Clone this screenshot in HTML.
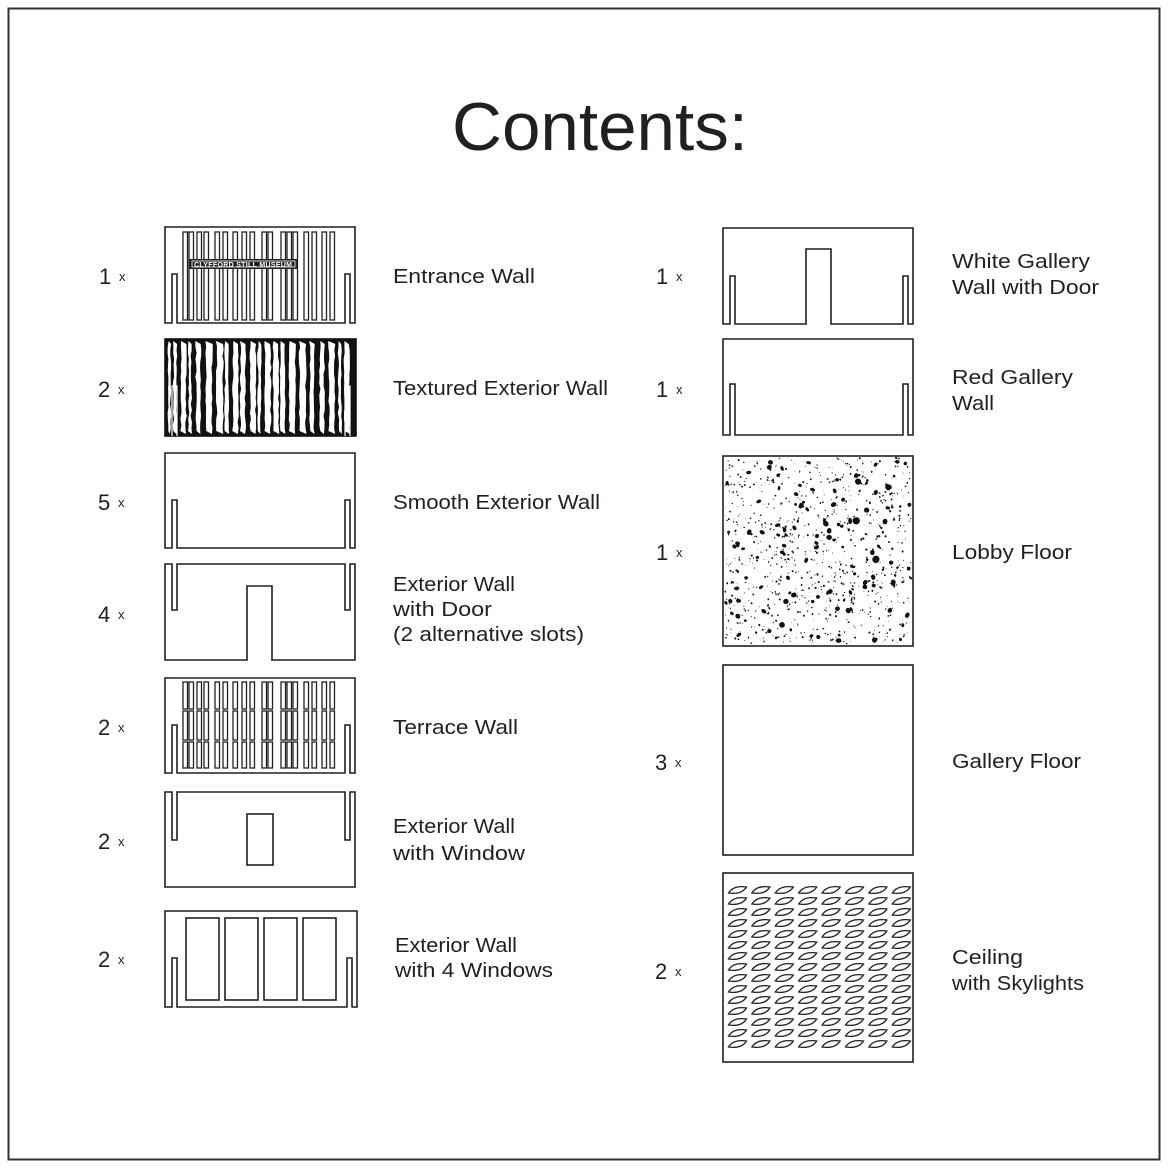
<!DOCTYPE html>
<html><head><meta charset="utf-8"><style>
html,body{margin:0;padding:0;background:#fff}
svg{display:block}
text{font-family:"Liberation Sans",sans-serif;fill:#231f20}
</style></head><body>
<svg id="s" width="1168" height="1168" viewBox="0 0 1168 1168" xmlns="http://www.w3.org/2000/svg">
<rect x="0" y="0" width="1168" height="1168" fill="#fff"/>
<rect x="8.5" y="8.5" width="1151" height="1151" fill="none" stroke="#333" stroke-width="2"/>
<text x="452" y="150" font-size="68" textLength="296" lengthAdjust="spacingAndGlyphs">Contents:</text>
<g id="shapes" fill="none" stroke="#231f20" stroke-width="1.6"></g>
<g id="labels" font-size="20"></g>
</svg>
<script>
var NS="http://www.w3.org/2000/svg",G=document.getElementById('shapes'),L=document.getElementById('labels'),S=document.getElementById('s');
function el(t,a,p){var e=document.createElementNS(NS,t);for(var k in a)e.setAttribute(k,a[k]);(p||G).appendChild(e);return e;}
function txt(x,y,s,fs,p,tl){var e=el('text',{x:x,y:y,'font-size':fs||20},p||L);e.textContent=s;if(tl){e.setAttribute('textLength',tl);e.setAttribute('lengthAdjust','spacingAndGlyphs');}return e;}
var seed=7;function r(){seed=(seed*16807)%2147483647;return (seed-1)/2147483646;}
function wall(x1,y1,x2,y2,ny,top,fill){
 var d;
 if(!top){d='M'+x1+','+y1+'H'+x2+'V'+y2+'H'+(x2-5)+'V'+ny+'H'+(x2-10)+'V'+y2+'H'+(x1+12)+'V'+ny+'H'+(x1+7)+'V'+y2+'H'+x1+'Z';}
 else{d='M'+x1+','+y2+'H'+x2+'V'+y1+'H'+(x2-5)+'V'+ny+'H'+(x2-10)+'V'+y1+'H'+(x1+12)+'V'+ny+'H'+(x1+7)+'V'+y1+'H'+x1+'Z';}
 return el('path',{d:d,fill:fill||'none'});
}
var bx=[183,189,197,204,215,223,233,242,250,262,268,281,287,293,304,312,322,330];
wall(165,227,355,323,274,false);
bx.forEach(function(x){el('rect',{x:x,y:232,width:4.5,height:88,'stroke-width':1.3});});
el('rect',{x:189,y:259,width:109,height:10,fill:'#231f20',stroke:'none'});
el('rect',{x:192,y:261,width:103,height:6,fill:'none',stroke:'#fff','stroke-width':0.8});
var lt=txt(194,267,'CLYFFORD STILL MUSEUM',7,G);lt.setAttribute('style','fill:#fff;stroke:none;font-weight:bold');lt.setAttribute('textLength','98');
el('rect',{x:165,y:339,width:191,height:97,fill:'#111',stroke:'#111'});
for(var x=168;x<352;){var w=2.5+r()*4;var pts=[];for(var y=341;y<=434;y+=6){pts.push((x+(r()-0.5)*1.5)+','+y);}for(var y=434;y>=341;y-=6){pts.push((x+w+(r()-0.5)*1.5)+','+y);}el('polygon',{points:pts.join(' '),fill:'#fff',stroke:'none'});x+=w+1.5+r()*4.5;}
el('path',{d:'M172,436V386H177V436M345,436V386H350V436',stroke:'#fff','stroke-width':1.2});
wall(165,453,355,548,500,false);
wall(165,564,355,660,610,true);
el('path',{d:'M247,660V586H272V660',fill:'#fff'});
el('line',{x1:248,y1:660,x2:271,y2:660,stroke:'#fff','stroke-width':2.5});
wall(165,678,355,773,725,false);
[[682,709],[711,740],[742,768]].forEach(function(rw){bx.forEach(function(x){el('rect',{x:x,y:rw[0],width:4.5,height:rw[1]-rw[0],'stroke-width':1.3});});});
wall(165,792,355,887,840,true);
el('rect',{x:247,y:814,width:26,height:51});
wall(165,911,357,1007,958,false);
[186,225,264,303].forEach(function(x){el('rect',{x:x,y:918,width:33,height:82});});
wall(723,228,913,324,276,false);
el('path',{d:'M806,324V249H831V324',fill:'#fff'});
el('line',{x1:807,y1:324,x2:830,y2:324,stroke:'#fff','stroke-width':2.5});
wall(723,339,913,435,384,false);
el('rect',{x:723,y:456,width:190,height:190});
for(var i=0;i<1000;i++){var cx=725+r()*186,cy=458+r()*186;var big=r();var rx=big>0.85?1.3+r()*1.7:0.3+r()*0.8;var b=(cx>850&&cy<560)?1.25:1;el('ellipse',{cx:cx.toFixed(1),cy:cy.toFixed(1),rx:(rx*b).toFixed(2),ry:(rx*b*(0.6+r()*0.4)).toFixed(2),fill:'#111',stroke:'none',transform:'rotate('+(r()*180|0)+' '+cx.toFixed(1)+' '+cy.toFixed(1)+')'});}
el('rect',{x:723,y:665,width:190,height:190});
el('rect',{x:723,y:873,width:190,height:189});
for(var rr=0;rr<15;rr++)for(var c=0;c<8;c++){var cx=737.5+c*23.4,cy=890+rr*11;el('path',{d:'M'+(cx-9)+','+(cy+3)+'Q'+(cx-4)+','+(cy-5)+' '+(cx+9)+','+(cy-3)+'Q'+(cx+4)+','+(cy+5)+' '+(cx-9)+','+(cy+3)+'Z','stroke-width':1.3});}
function q(x,y,n){txt(x,y,n,22);txt(x+20,y-3,'x',13);}
q(99,284,'1');q(98,397,'2');q(98,510,'5');q(98,622,'4');q(98,735,'2');q(98,849,'2');q(98,967,'2');
q(656,284,'1');q(656,397,'1');q(656,560,'1');q(655,770,'3');q(655,979,'2');
txt(393,283,'Entrance Wall',20,null,142);txt(393,395,'Textured Exterior Wall',20,null,215);txt(393,509,'Smooth Exterior Wall',20,null,207);
txt(393,591,'Exterior Wall',20,null,122);txt(393,616,'with Door',20,null,99);txt(393,641,'(2 alternative slots)',20,null,191);
txt(393,734,'Terrace Wall',20,null,125);txt(393,833,'Exterior Wall',20,null,122);txt(393,860,'with Window',20,null,132);
txt(395,952,'Exterior Wall',20,null,122);txt(395,977,'with 4 Windows',20,null,158);
txt(952,268,'White Gallery',20,null,138);txt(952,294,'Wall with Door',20,null,147);txt(952,384,'Red Gallery',20,null,121);txt(952,410,'Wall',20,null,42);
txt(952,559,'Lobby Floor',20,null,120);txt(952,768,'Gallery Floor',20,null,129);txt(952,964,'Ceiling',20,null,71);txt(952,990,'with Skylights',20,null,132);
</script>
</body></html>
